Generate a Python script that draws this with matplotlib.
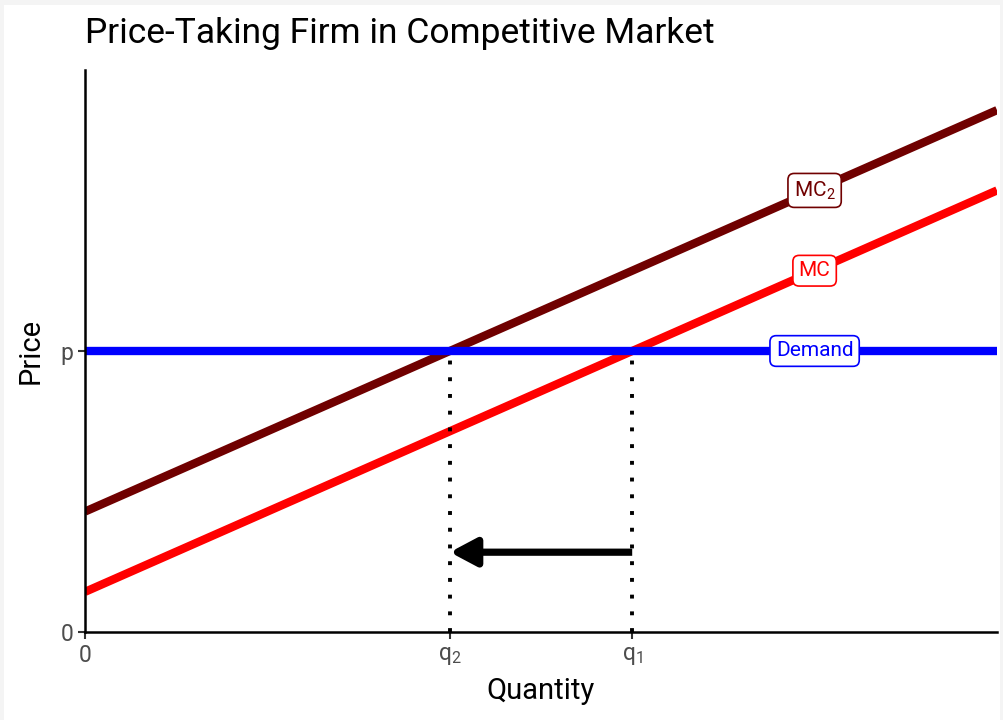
import matplotlib
matplotlib.use("Agg")
import matplotlib.pyplot as plt
import numpy as np

# data
quantity = np.array([0, 10])
mc = (5 / 7) * (quantity + 1)        # original marginal cost
mc2 = (5 / 7) * (quantity + 3)       # shifted marginal cost
price = 5
q1, q2 = 6, 4
arrow_y = 1.42
label_x = 8

xtick_pos = [0, q2, q1]
xtick_labels = ["0", "q$_2$", "q$_1$"]
ytick_pos = [0, price]
ytick_labels = ["0", "p"]

FONT = "Roboto"
plt.rcParams["font.family"] = [FONT, "DejaVu Sans"]
plt.rcParams["mathtext.fontset"] = "custom"
plt.rcParams["mathtext.rm"] = FONT
plt.rcParams["mathtext.it"] = FONT
plt.rcParams["mathtext.default"] = "regular"

fig = plt.figure(figsize=(10.04, 7.2), dpi=100)
fig.patch.set_facecolor("#f4f4f4")
fig.add_artist(plt.Rectangle((4 / 1004, 0), 1 - 8 / 1004, 1 - 5 / 720,
                             transform=fig.transFigure, facecolor="white",
                             edgecolor="none", zorder=0))
ax = fig.add_axes([85 / 1004, 88 / 720, (997 - 85) / 1004, (650 - 88) / 720])
ax.set_facecolor("white")

LW = 6
ax.plot(quantity, mc2, color="#700000", lw=LW, solid_capstyle="butt", zorder=3)
ax.plot(quantity, mc, color="red", lw=LW, solid_capstyle="butt", zorder=3)
ax.axhline(price, color="blue", lw=LW, zorder=4)

for q in (q1, q2):
    ax.plot([q, q], [0, price], color="black", lw=2.8, linestyle=(0, (1, 3.3)),
            dash_capstyle="butt", zorder=5)

ax.annotate("", xy=(q2, arrow_y), xytext=(q1, arrow_y),
            arrowprops=dict(arrowstyle="-|>,head_length=1.6,head_width=0.85",
                            lw=5.2, color="black", shrinkA=0, shrinkB=0,
                            joinstyle="round", capstyle="butt"),
            zorder=6)

def curve_label(x, y, text, color):
    ax.text(x, y, text, color=color, fontsize=15, ha="center", va="center",
            zorder=7,
            bbox=dict(boxstyle="round,pad=0.28,rounding_size=0.3",
                      facecolor="white", edgecolor=color, lw=1.2))

curve_label(label_x, (5 / 7) * (label_x + 3), "MC$_2$", "#700000")
curve_label(label_x, (5 / 7) * (label_x + 1), "MC", "red")
curve_label(label_x, price, "Demand", "blue")

ax.set_xlim(0, 10)
ax.set_ylim(0, 10)
ax.set_xticks(xtick_pos)
ax.set_xticklabels(xtick_labels)
ax.set_yticks(ytick_pos)
ax.set_yticklabels(ytick_labels)
ax.tick_params(labelsize=16.5, colors="#4d4d4d", length=5, width=1.5)
ax.tick_params(axis="both", color="#333333")
for side in ("top", "right"):
    ax.spines[side].set_visible(False)
for side in ("left", "bottom"):
    ax.spines[side].set_linewidth(1.8)
    ax.spines[side].set_zorder(8)

ax.set_xlabel("Quantity", fontsize=21, labelpad=7)
ax.set_ylabel("Price", fontsize=21, labelpad=11)
fig.text(85 / 1004, 1 - 34 / 720, "Price-Taking Firm in Competitive Market",
         fontsize=25.5, ha="left", va="center")

fig.savefig("out.png", dpi=100)
